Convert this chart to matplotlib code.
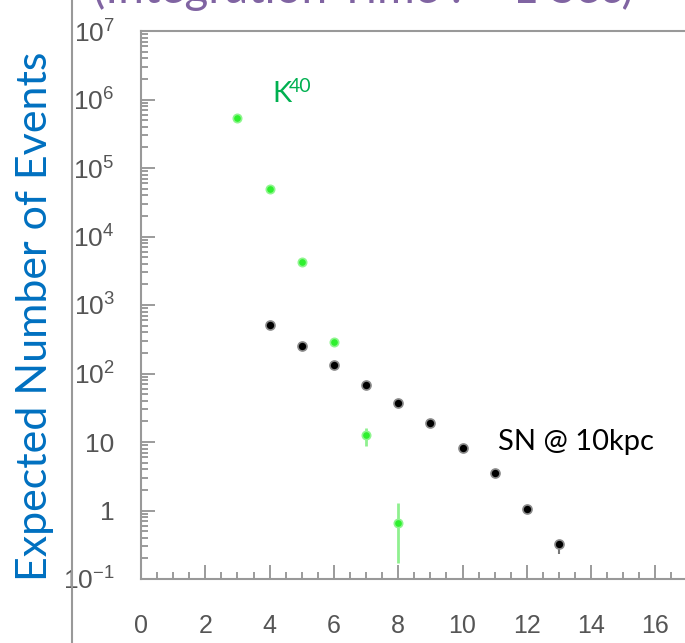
import matplotlib
matplotlib.use("Agg")
from matplotlib import pyplot as plt
from matplotlib.lines import Line2D
from matplotlib.ticker import LogLocator, MultipleLocator, NullFormatter

# K40 background (green) and supernova at 10 kpc (black)
k40_x = [3, 4, 5, 6, 7, 8]
k40_y = [5.3e5, 5.0e4, 4.3e3, 290, 12.6, 0.65]
k40_lo = [0, 0, 0, 0, 3.9, 0.48]
k40_hi = [0, 0, 0, 0, 3.4, 0.62]

sn_x = [4, 5, 6, 7, 8, 9, 10, 11, 12, 13]
sn_y = [513, 253, 133, 68, 37, 19, 8.1, 3.5, 1.04, 0.32]
sn_lo = [0, 0, 0, 0, 0, 0, 0, 0, 0, 0.09]
sn_hi = [0, 0, 0, 0, 0, 0, 0, 0, 0, 0.05]

ytick_vals = [1e-1, 1, 10, 1e2, 1e3, 1e4, 1e5, 1e6, 1e7]
ytick_labels = [r"$10^{-1}$", "1", "10", r"$10^{2}$", r"$10^{3}$",
                r"$10^{4}$", r"$10^{5}$", r"$10^{6}$", r"$10^{7}$"]

plt.rcParams["mathtext.fontset"] = "custom"
plt.rcParams["mathtext.rm"] = "Liberation Sans"
plt.rcParams["mathtext.it"] = "Liberation Sans"
plt.rcParams["font.family"] = "Liberation Sans"

W, H = 685, 643
fig = plt.figure(figsize=(W / 100, H / 100), dpi=100)
ax = fig.add_axes([141 / W, 1 - 579 / H, (W - 141) / W, (579 - 31) / H])

ax.errorbar(k40_x, k40_y, yerr=[k40_lo, k40_hi], fmt="o", color="#2ef02e",
            ecolor="#8ff08f", elinewidth=2, ms=6, mec="#8ff58f", mew=1.2, zorder=3)
ax.errorbar(sn_x, sn_y, yerr=[sn_lo, sn_hi], fmt="o", color="black",
            ecolor="#777777", elinewidth=1.5, ms=6.5, mec="#8a8a8a", mew=1.2, zorder=3)

ax.set_yscale("log")
ax.set_ylim(0.1, 1e7)
ax.set_xlim(0, (W - 141) / 32.15)
ax.set_yticks(ytick_vals)
ax.set_yticklabels(ytick_labels)
ax.yaxis.set_minor_locator(LogLocator(base=10, subs=range(2, 10), numticks=20))
ax.yaxis.set_minor_formatter(NullFormatter())
ax.xaxis.set_major_locator(MultipleLocator(2))
ax.xaxis.set_minor_locator(MultipleLocator(0.5))

for s in ["left", "top", "bottom"]:
    ax.spines[s].set_color("#999999")
    ax.spines[s].set_linewidth(1.5)
ax.spines["right"].set_visible(False)

ax.tick_params(which="both", direction="in", color="#8a8a8a", width=1.2)
ax.tick_params(which="major", length=10)
ax.tick_params(which="minor", length=5)
ax.tick_params(axis="y", which="major", pad=19, labelsize=19, labelcolor="#555555")
ax.tick_params(axis="x", which="major", pad=25, labelsize=18, labelcolor="#555555")

# slide decorations
fig.add_artist(Line2D([72 / W, 72 / W], [0, 1], transform=fig.transFigure,
                      color="#999999", lw=1.5))
fig.text(35 / W, 1 - 316 / H, "Expected Number of Events", rotation=90,
         ha="center", va="center", color="#0070C0", fontsize=31, family="Lato")
fig.text(363 / W, 1 - 3 / H, "(Integration Time : ~ 1 Sec)", ha="center",
         va="baseline", color="#8064A2", fontsize=33, family="Lato")

fig.text(272 / W, 1 - 102 / H, "K", color="#00B050", fontsize=21, family="Lato",
         va="baseline")
fig.text(289 / W, 1 - 92 / H, "40", color="#00B050", fontsize=14, family="Lato",
         va="baseline")
fig.text(498 / W, 1 - 450 / H, "SN @ 10kpc", color="black", fontsize=21,
         family="Lato", va="baseline")

fig.savefig("out.png", dpi=100)
